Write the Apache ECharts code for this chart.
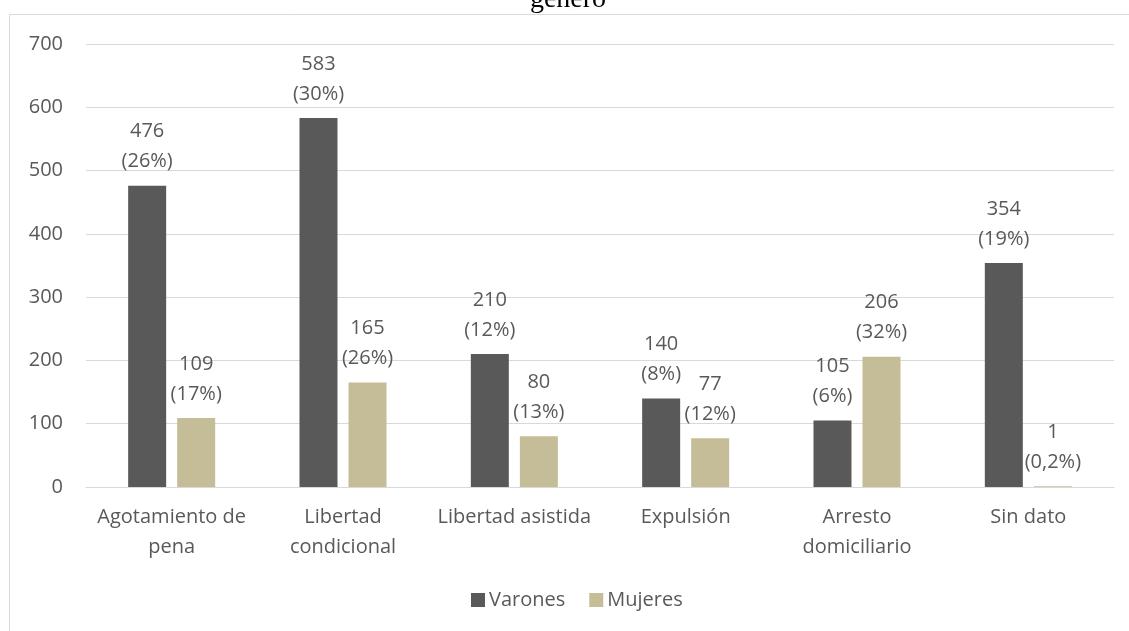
<!DOCTYPE html>
<html>
<head>
<meta charset="utf-8">
<style>
  html, body { margin: 0; padding: 0; background: #ffffff; }
  #chart { width: 1129px; height: 631px; }
</style>
<script src="https://cdn.jsdelivr.net/npm/echarts@6/dist/echarts.min.js"></script>
</head>
<body>
<div id="chart"></div>
<script>
// Egresos por tipo de salida, desagregados por género
const categories = [
  'Agotamiento de\npena',
  'Libertad\ncondicional',
  'Libertad asistida',
  'Expulsión',
  'Arresto\ndomiciliario',
  'Sin dato'
];
const varones = [476, 583, 210, 140, 105, 354];
const mujeres = [109, 165, 80, 77, 206, 1];
const varonesPct = ['26%', '30%', '12%', '8%', '6%', '19%'];
const mujeresPct = ['17%', '26%', '13%', '12%', '32%', '0,2%'];
const yTicks = [0, 100, 200, 300, 400, 500, 600, 700];

const FONT = 'Open Sans';
const TEXT = '#595959';
const GRID = '#d9d9d9';

const chart = echarts.init(document.getElementById('chart'), null, { renderer: 'canvas' });

function barLabel(pcts) {
  return {
    show: true,
    position: 'top',
    distance: 9,
    color: TEXT,
    fontFamily: FONT,
    fontSize: 20,
    lineHeight: 30,
    formatter: p => p.value + '\n(' + pcts[p.dataIndex] + ')'
  };
}

chart.setOption({
  animation: false,
  backgroundColor: '#ffffff',
  textStyle: { fontFamily: FONT },
  graphic: [
    {
      type: 'rect',
      silent: true,
      shape: { x: 9.5, y: 14.5, width: 1200, height: 700 },
      style: { fill: 'none', stroke: GRID, lineWidth: 1 }
    },
    {
      type: 'text',
      silent: true,
      style: {
        text: 'género',
        x: 568,
        y: 0,
        align: 'center',
        verticalAlign: 'middle',
        fill: '#000000',
        font: '28px "Liberation Serif", "Times New Roman", serif'
      }
    }
  ],
  grid: { left: 86, right: 15, top: 44, bottom: 144, containLabel: false },
  legend: {
    data: ['Varones', 'Mujeres'],
    left: 471,
    top: 590,
    padding: 0,
    itemWidth: 14,
    itemHeight: 14,
    itemGap: 24,
    icon: 'rect',
    textStyle: { color: TEXT, fontFamily: FONT, fontSize: 20, lineHeight: 20, padding: [0, 0, 0, -1] }
  },
  xAxis: {
    type: 'category',
    data: categories,
    axisLine: { lineStyle: { color: GRID, width: 1 } },
    axisTick: { show: false },
    axisLabel: {
      color: TEXT,
      fontFamily: FONT,
      fontSize: 20,
      lineHeight: 30,
      margin: 15,
      interval: 0
    }
  },
  yAxis: {
    type: 'value',
    min: yTicks[0],
    max: yTicks[yTicks.length - 1],
    interval: 100,
    axisLine: { show: false },
    axisTick: { show: false },
    splitLine: { lineStyle: { color: GRID, width: 1 } },
    axisLabel: { color: TEXT, fontFamily: FONT, fontSize: 20, margin: 23 }
  },
  series: [
    {
      name: 'Varones',
      type: 'bar',
      data: varones,
      barWidth: 38,
      barGap: '29%',
      itemStyle: { color: '#595959' },
      label: barLabel(varonesPct)
    },
    {
      name: 'Mujeres',
      type: 'bar',
      data: mujeres,
      barWidth: 38,
      barGap: '29%',
      itemStyle: { color: '#c4bd97' },
      label: barLabel(mujeresPct)
    }
  ]
});
</script>
</body>
</html>
